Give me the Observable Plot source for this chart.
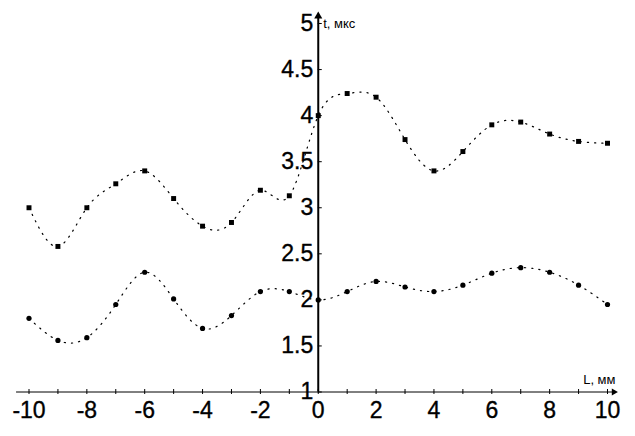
<!DOCTYPE html>
<html>
<head>
<meta charset="utf-8">
<script src="https://cdn.jsdelivr.net/npm/d3@7"></script>
<script src="https://cdn.jsdelivr.net/npm/@observablehq/plot@0.6"></script>
<style>
  html, body { margin: 0; padding: 0; background: #fff; }
  svg { font-family: "Liberation Sans", Arial, sans-serif; }
</style>
</head>
<body>
<div id="chart"></div>
<script>
// Data: L (mm) positions and t (µs) values for the two series
const L = [-10, -9, -8, -7, -6, -5, -4, -3, -2, -1, 0, 1, 2, 3, 4, 5, 6, 7, 8, 9, 10];
const upper = [3.00, 2.58, 3.00, 3.26, 3.40, 3.10, 2.80, 2.84, 3.19, 3.13, 4.00, 4.24, 4.20, 3.74, 3.40, 3.61, 3.90, 3.93, 3.80, 3.72, 3.70];
const lower = [1.80, 1.56, 1.59, 1.95, 2.30, 2.01, 1.69, 1.83, 2.09, 2.09, 2.00, 2.09, 2.20, 2.14, 2.09, 2.16, 2.29, 2.35, 2.30, 2.16, 1.95];

// Axis ticks and labels
const xTicks = [-10, -9, -8, -7, -6, -5, -4, -3, -2, -1, 0, 1, 2, 3, 4, 5, 6, 7, 8, 9, 10];
const xTickLabels = [-10, -8, -6, -4, -2, 0, 2, 4, 6, 8, 10];
const yTickLabels = [1, 1.5, 2, 2.5, 3, 3.5, 4, 4.5, 5];
const xTitle = "L, мм";
const yTitle = "t, мкс";

// Axis extents (data units)
const xDomain = [-10, 10];
const yDomain = [1, 5];
const xAxisStart = -10.43;
const xAxisEnd = 10.22;
const yAxisTop = 5.08;

const upperData = L.map((l, i) => ({l, t: upper[i]}));
const lowerData = L.map((l, i) => ({l, t: lower[i]}));

const font = "Liberation Sans, Arial, sans-serif";

const chart = Plot.plot({
  width: 635,
  height: 436,
  margin: 0,
  style: {background: "#fff", fontFamily: font},
  x: {type: "linear", domain: xDomain, range: [28.5, 607], axis: null},
  y: {type: "linear", domain: yDomain, range: [391.5, 23], axis: null},
  marks: [
    // x axis line and arrow
    Plot.ruleY([yDomain[0]], {y: d => d, x1: xAxisStart, x2: xAxisEnd, stroke: "#000", strokeWidth: 1}),
    Plot.dot([xAxisEnd], {x: d => d, y: yDomain[0], symbol: "triangle", r: 2.6, fill: "#000", stroke: "none", rotate: 90}),
    // y axis line and arrow
    Plot.ruleX([0], {x: d => d, y1: yDomain[0], y2: yAxisTop, stroke: "#000", strokeWidth: 2}),
    Plot.dot([yAxisTop], {x: 0, y: d => d, symbol: "triangle", r: 3, fill: "#000", stroke: "none"}),
    // ticks
    Plot.ruleX(xTicks, {x: d => d, y1: yDomain[0], y2: yDomain[0], stroke: "#000", strokeWidth: 1, insetTop: -2.5, insetBottom: -2.5}),
    Plot.ruleY(yTickLabels, {y: d => d, x1: 0, x2: 0, stroke: "#000", strokeWidth: 1, insetLeft: 0, insetRight: -4}),
    // tick labels
    Plot.text(xTickLabels, {x: d => d, y: yDomain[0], dy: 19, text: d => String(d), fontSize: 23, fill: "#000", stroke: "#000", strokeWidth: 0.35, textAnchor: "middle"}),
    Plot.text(yTickLabels, {x: 0, y: d => d, dx: -5, text: d => String(d), fontSize: 23, fill: "#000", stroke: "#000", strokeWidth: 0.35, textAnchor: "end"}),
    // axis titles
    Plot.text([yTitle], {x: 0, y: yDomain[1], dx: 5, text: d => d, fontSize: 13, fill: "#000", textAnchor: "start"}),
    Plot.text([xTitle], {x: xDomain[1], y: yDomain[0], dx: 8, dy: -12, text: d => d, fontSize: 13, fill: "#000", textAnchor: "end"}),
    // curves
    Plot.line(upperData, {x: "l", y: "t", curve: "natural", stroke: "#000", strokeWidth: 1.2, strokeDasharray: "1.2,6"}),
    Plot.line(lowerData, {x: "l", y: "t", curve: "natural", stroke: "#000", strokeWidth: 1.2, strokeDasharray: "1.2,6"}),
    // points
    Plot.dot(upperData, {x: "l", y: "t", symbol: "square", r: 2.8, fill: "#000", stroke: "none"}),
    Plot.dot(lowerData, {x: "l", y: "t", symbol: "circle", r: 2.6, fill: "#000", stroke: "none"})
  ]
});

document.getElementById("chart").appendChild(chart);
</script>
</body>
</html>
